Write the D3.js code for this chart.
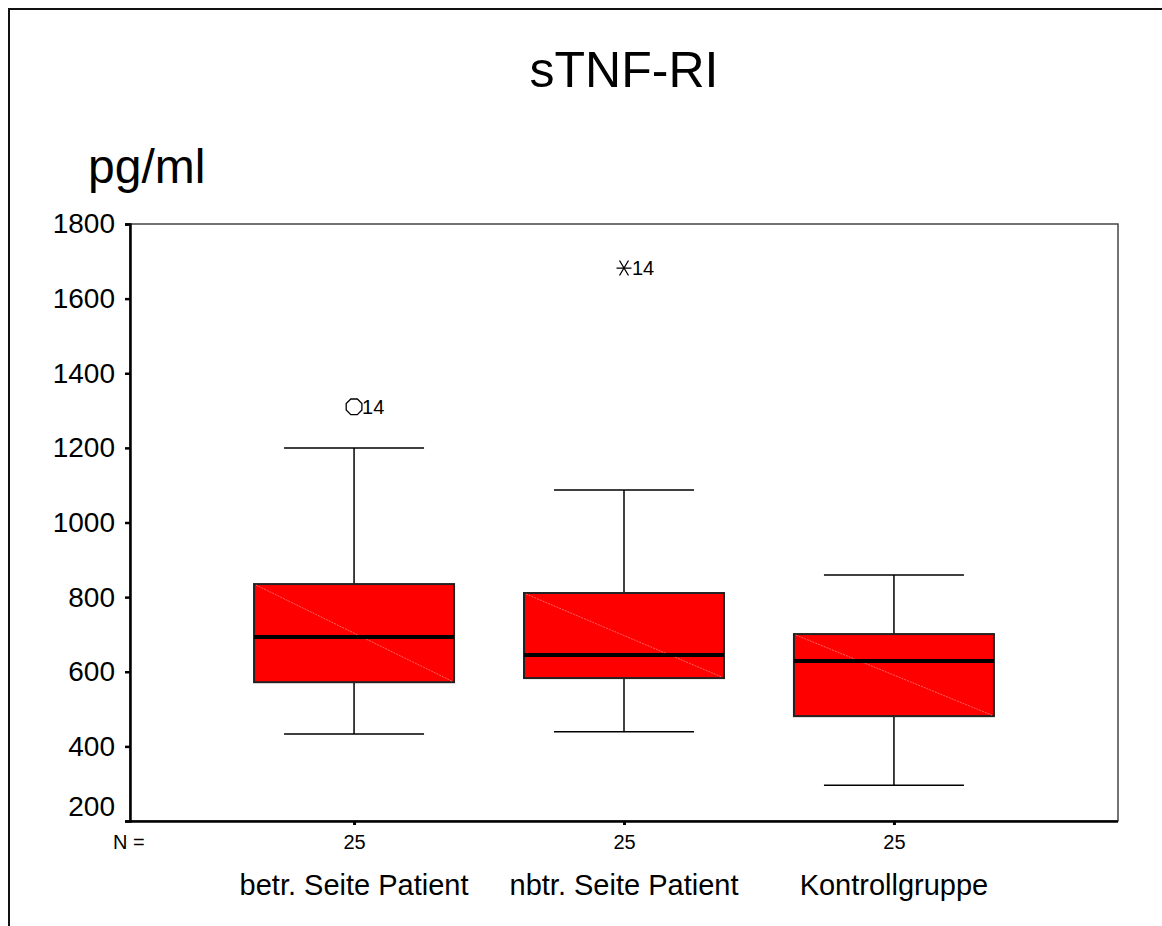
<!DOCTYPE html>
<html><head><meta charset="utf-8">
<script src="https://cdn.jsdelivr.net/npm/d3@7"></script>
<style>body{margin:0;background:#fff;}svg{display:block;font-family:Arial,"Liberation Sans",sans-serif;}</style>
</head><body>
<svg id="c" width="1162" height="926"></svg>
<script>
const categories = ["betr. Seite Patient", "nbtr. Seite Patient", "Kontrollgruppe"];
const nValues = [25, 25, 25];
const whiskerLow = [433, 439, 296];
const q1 = [572, 583, 481];
const median = [693, 645, 629];
const q3 = [835, 811, 701];
const whiskerHigh = [1200, 1087, 859];
const outliers = [
  {cat: 0, value: 1310, label: "14", type: "circle"},
  {cat: 1, value: 1682, label: "14", type: "star"}
];
const yTicks = [200, 400, 600, 800, 1000, 1200, 1400, 1600, 1800];

const svg = d3.select("#c");
const L = 130, R = 1118, T = 224, B = 821;
const y = d3.scaleLinear().domain([200, 1800]).range([B, T]);
const x = d3.scalePoint().domain(categories).range([L, R]).padding(0.83);

// outer frame
svg.append("path").attr("d", `M9,926 L9,9 L1162,9`).attr("fill","none").attr("stroke","#111").attr("stroke-width",2);

// title
svg.append("text").attr("x", 624).attr("y", 87).attr("text-anchor","middle").attr("font-size",50).text("sTNF-RI");
svg.append("text").attr("x", 88).attr("y", 183).attr("font-size",48).text("pg/ml");

// plot frame
svg.append("rect").attr("x",L).attr("y",T).attr("width",R-L).attr("height",B-T).attr("fill","none").attr("stroke","#444").attr("stroke-width",1.5);

// y axis
const yAxis = d3.axisLeft(y).tickValues(yTicks).tickSize(5).tickPadding(10).tickFormat(d3.format("d"));
const ga = svg.append("g").attr("transform",`translate(${L},0)`).call(yAxis);
ga.select(".domain").attr("stroke","#000").attr("stroke-width",2.5);
ga.selectAll(".tick line").attr("stroke","#000").attr("stroke-width",2.5);
ga.selectAll(".tick text").attr("font-size",28).attr("fill","#000").attr("font-family","Arial, 'Liberation Sans', sans-serif")
  .attr("dy", d => d === 200 ? "-0.2em" : "0.32em");

// x axis
const xAxis = d3.axisBottom(x).tickSize(4).tickFormat((d,i)=>nValues[i]).tickPadding(10);
const gx = svg.append("g").attr("transform",`translate(0,${B})`).call(xAxis);
gx.select(".domain").attr("d",`M${L},0.5H${R}`).attr("stroke","#000").attr("stroke-width",2.5);
gx.selectAll(".tick line").attr("stroke","#000").attr("stroke-width",3);
gx.selectAll(".tick text").attr("font-size",20).attr("fill","#000").attr("font-family","Arial, 'Liberation Sans', sans-serif");
svg.append("text").attr("x",113).attr("y",849).attr("font-size",20).text("N =");

// category labels
svg.selectAll("text.cat").data(categories).join("text").attr("class","cat")
  .attr("x",d=>x(d)).attr("y",895).attr("text-anchor","middle").attr("font-size",29).text(d=>d);

// boxes
const bw = 100, cw = 70;
categories.forEach((c,i)=>{
  const cx = x(c);
  const g = svg.append("g");
  g.append("line").attr("x1",cx).attr("x2",cx).attr("y1",y(whiskerHigh[i])).attr("y2",y(q3[i])).attr("stroke","#000").attr("stroke-width",1.5);
  g.append("line").attr("x1",cx).attr("x2",cx).attr("y1",y(q1[i])).attr("y2",y(whiskerLow[i])).attr("stroke","#000").attr("stroke-width",1.5);
  g.append("line").attr("x1",cx-cw).attr("x2",cx+cw).attr("y1",y(whiskerHigh[i])).attr("y2",y(whiskerHigh[i])).attr("stroke","#000").attr("stroke-width",1.5);
  g.append("line").attr("x1",cx-cw).attr("x2",cx+cw).attr("y1",y(whiskerLow[i])).attr("y2",y(whiskerLow[i])).attr("stroke","#000").attr("stroke-width",1.5);
  g.append("rect").attr("x",cx-bw).attr("y",y(q3[i])).attr("width",2*bw).attr("height",y(q1[i])-y(q3[i]))
    .attr("fill","#ff0000").attr("stroke","#222").attr("stroke-width",2);
  g.append("line").attr("x1",cx-bw+2).attr("y1",y(q3[i])+1).attr("x2",cx+bw-2).attr("y2",y(q1[i])-1)
    .attr("stroke","#ff7a7a").attr("stroke-width",0.8).attr("stroke-dasharray","2,1");
  g.append("line").attr("x1",cx-bw).attr("x2",cx+bw).attr("y1",y(median[i])).attr("y2",y(median[i])).attr("stroke","#000").attr("stroke-width",4);
});

// outliers
outliers.forEach(o=>{
  const cx = x(categories[o.cat]), cy = y(o.value);
  if (o.type==="circle") {
    const pts = d3.range(8).map(k=>{const a=Math.PI/8+k*Math.PI/4; return [cx+8.5*Math.cos(a), cy+8.5*Math.sin(a)];});
    svg.append("path").attr("d","M"+pts.map(p=>p.join(",")).join("L")+"Z").attr("fill","none").attr("stroke","#000").attr("stroke-width",1.3);
  } else {
    const r = 7.5;
    svg.append("path").attr("d",`M${cx-r},${cy}H${cx+r}M${cx-r*0.6},${cy-r}L${cx+r*0.6},${cy+r}M${cx+r*0.6},${cy-r}L${cx-r*0.6},${cy+r}`)
      .attr("stroke","#000").attr("stroke-width",1.3).attr("fill","none");
  }
  svg.append("text").attr("x",cx+8).attr("y",cy+7).attr("font-size",20).text(o.label);
});
</script>
</body></html>
